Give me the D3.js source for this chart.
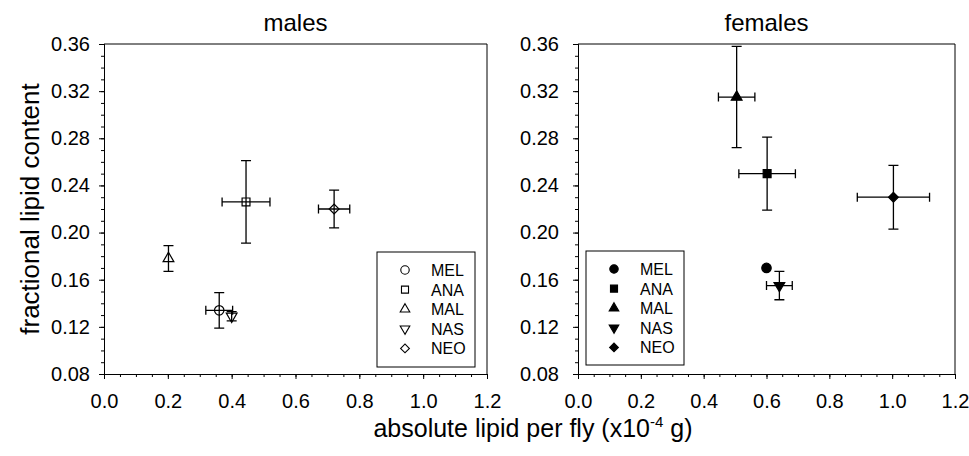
<!DOCTYPE html>
<html>
<head>
<meta charset="utf-8">
<script src="https://cdn.jsdelivr.net/npm/d3@7"></script>
<style>
	body { margin: 0; background: #fff; }
	text { font-family: "Liberation Sans", Arial, sans-serif; fill: #000; }
	.axis path, .axis line { stroke: #000; stroke-width: 1; }
</style>
</head>
<body>
<div id="draw"></div>
<script>
var species = ["MEL", "ANA", "MAL", "NAS", "NEO"];

var maleX = [0.361, 0.445, 0.202, 0.400, 0.721];
var maleXErr = [0.042, 0.075, 0, 0, 0.049];
var maleY = [0.134, 0.226, 0.178, 0.129, 0.220];
var maleYErr = [0.015, 0.035, 0.011, 0.004, 0.016];

var femaleX = [0.600, 0.602, 0.505, 0.641, 1.004];
var femaleXErr = [0, 0.090, 0.058, 0.041, 0.115];
var femaleY = [0.170, 0.250, 0.315, 0.155, 0.230];
var femaleYErr = [0, 0.031, 0.043, 0.012, 0.027];

var xTicks = [0.0, 0.2, 0.4, 0.6, 0.8, 1.0, 1.2];
var yTicks = [0.08, 0.12, 0.16, 0.20, 0.24, 0.28, 0.32, 0.36];

var width = 969, height = 456;
var plotTop = 44, plotBottom = 374;

var svg = d3.select("#draw").append("svg")
	.attr("width", width)
	.attr("height", height);

var symbols = [
	{ type: d3.symbolCircle, size: 70, rot: 0 },
	{ type: d3.symbolSquare, size: 62, rot: 0 },
	{ type: d3.symbolTriangle, size: 50, rot: 0 },
	{ type: d3.symbolTriangle, size: 50, rot: 180 },
	{ type: d3.symbolSquare, size: 48, rot: 45 }
];

function panel(title, left, right, xs, xe, ys, ye, filled, legend, labelPad) {
	var x = d3.scaleLinear().domain([0, 1.2]).range([left, right]);
	var y = d3.scaleLinear().domain([0.08, 0.36]).range([plotBottom, plotTop]);

	// minor ticks
	svg.append("g")
		.attr("class", "axis")
		.attr("transform", "translate(0," + plotBottom + ")")
		.call(d3.axisBottom(x).tickValues(d3.range(0, 1.2001, 0.05)).tickSize(3).tickFormat(""));
	svg.append("g")
		.attr("class", "axis")
		.attr("transform", "translate(" + left + ",0)")
		.call(d3.axisLeft(y).tickValues(d3.range(0.08, 0.3601, 0.01)).tickSize(3).tickFormat(""));

	svg.append("g")
		.attr("class", "axis")
		.attr("transform", "translate(0," + plotBottom + ")")
		.call(d3.axisBottom(x).tickValues(xTicks).tickSize(5).tickPadding(15).tickFormat(d3.format(".1f")));
	svg.append("g")
		.attr("class", "axis")
		.attr("transform", "translate(" + left + ",0)")
		.call(d3.axisLeft(y).tickValues(yTicks).tickSize(5).tickPadding(labelPad).tickFormat(d3.format(".2f")));
	svg.selectAll(".axis text")
		.style("font-size", "20px")
		.style("font-family", "'Liberation Sans', Arial, sans-serif");

	// frame top and right
	svg.append("path")
		.attr("d", "M" + left + "," + plotTop + "H" + right + "V" + plotBottom)
		.attr("fill", "none")
		.attr("stroke", "#000");

	svg.append("text")
		.attr("x", (left + right) / 2)
		.attr("y", 31)
		.attr("text-anchor", "middle")
		.style("font-size", "24px")
		.text(title);

	var g = svg.append("g");
	var cap = 5, hcap = 4.5;
	for (var i = 0; i < species.length; ++i) {
		var cx = x(xs[i]), cy = y(ys[i]);
		if (ye[i] > 0) {
			var y1 = y(ys[i] + ye[i]), y2 = y(ys[i] - ye[i]);
			g.append("path")
				.attr("d", "M" + cx + "," + y1 + "V" + y2 +
					"M" + (cx - cap) + "," + y1 + "H" + (cx + cap) +
					"M" + (cx - cap) + "," + y2 + "H" + (cx + cap))
				.attr("stroke", "#000").attr("stroke-width", 1.3).attr("fill", "none");
		}
		if (xe[i] > 0) {
			var x1 = x(xs[i] - xe[i]), x2 = x(xs[i] + xe[i]);
			g.append("path")
				.attr("d", "M" + x1 + "," + cy + "H" + x2 +
					"M" + x1 + "," + (cy - hcap) + "V" + (cy + hcap) +
					"M" + x2 + "," + (cy - hcap) + "V" + (cy + hcap))
				.attr("stroke", "#000").attr("stroke-width", 1.3).attr("fill", "none");
		}
	}
	for (var i = 0; i < species.length; ++i) {
		g.append("path")
			.attr("d", d3.symbol().type(symbols[i].type).size(symbols[i].size)())
			.attr("transform", "translate(" + x(xs[i]) + "," + y(ys[i]) + ") rotate(" + symbols[i].rot + ")")
			.attr("fill", filled ? "#000" : "none")
			.attr("stroke", "#000")
			.attr("stroke-width", 1.2);
	}

	// legend
	var lg = svg.append("g");
	lg.append("rect")
		.attr("x", legend.x).attr("y", legend.y)
		.attr("width", legend.w).attr("height", legend.h)
		.attr("fill", "#fff").attr("stroke", "#000").attr("stroke-width", 1);
	species.forEach(function(name, i) {
		var ry = legend.y + 18 + i * 19.6;
		lg.append("path")
			.attr("d", d3.symbol().type(symbols[i].type).size(symbols[i].size * 0.8)())
			.attr("transform", "translate(" + (legend.x + legend.sx) + "," + ry + ") rotate(" + symbols[i].rot + ")")
			.attr("fill", filled ? "#000" : "none")
			.attr("stroke", "#000")
			.attr("stroke-width", 1.1);
		lg.append("text")
			.attr("x", legend.x + legend.tx)
			.attr("y", ry + 6)
			.style("font-size", "16px")
			.text(name);
	});
}

panel("males", 104, 487, maleX, maleXErr, maleY, maleYErr, false,
	{ x: 377, y: 252, w: 98, h: 115, sx: 28, tx: 54 }, 9);
panel("females", 578, 955, femaleX, femaleXErr, femaleY, femaleYErr, true,
	{ x: 586, y: 251, w: 98, h: 114, sx: 28, tx: 54 }, 14);

svg.append("text")
	.attr("transform", "translate(39,209) rotate(-90)")
	.attr("text-anchor", "middle")
	.style("font-size", "26px")
	.text("fractional lipid content");

var xl = svg.append("text")
	.attr("x", 533)
	.attr("y", 437)
	.attr("text-anchor", "middle")
	.style("font-size", "25px");
xl.append("tspan").text("absolute lipid per fly (x10");
xl.append("tspan").attr("dy", -10).style("font-size", "15px").text("-4");
xl.append("tspan").attr("dy", 10).text(" g)");
</script>
</body>
</html>
